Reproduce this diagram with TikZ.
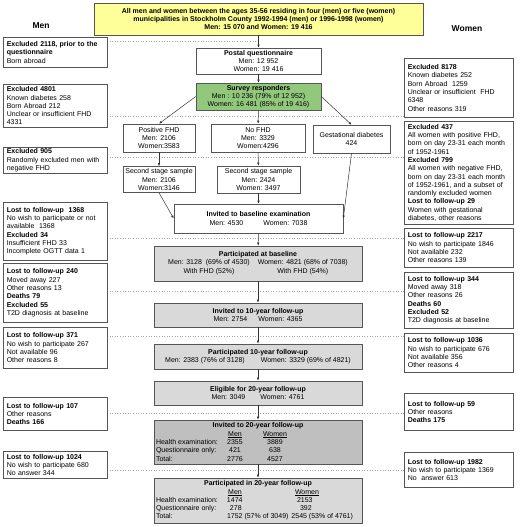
\documentclass[tikz,border=0pt]{standalone}
\usepackage{fontspec}
\setmainfont{Liberation Sans}
\usetikzlibrary{arrows.meta}
\definecolor{topyellow}{RGB}{255,255,153}
\definecolor{respgreen}{RGB}{146,200,124}
\definecolor{partgray}{RGB}{217,217,217}
\definecolor{invgray}{RGB}{191,191,191}
\definecolor{rimgray}{RGB}{85,85,85}
\def\boxfont{\fontsize{7}{8.3}\selectfont}
\def\headfont{\fontsize{8.5}{10}\selectfont\bfseries}
\def\tabrow#1#2#3{\makebox[204pt][l]{\makebox[64pt][l]{#1}\makebox[30pt]{#2}\makebox[50pt]{#3}}}
\tikzset{
	menbox/.style={draw=rimgray, line width=0.6pt, anchor=north west, align=left, text width=97pt, inner xsep=3.5pt, inner ysep=0pt, font=\boxfont},
	womenbox/.style={menbox, text width=102pt},
	stagebox/.style={draw=rimgray, line width=0.6pt, align=center, inner sep=0pt, font=\boxfont},
	guideline/.style={black!35, dotted, line width=0.6pt},
	flow/.style={black!80, line width=0.5pt, -{Latex[length=3pt,width=2.4pt]}},
}

\begin{document}
\begin{tikzpicture}[x=1pt, y=-1pt]
	%%%%% START %%%%%
	\useasboundingbox (0, 0) rectangle (520, 527);
	
	\node[font=\headfont] (menhead) at (41, 26) {Men};
	\node[font=\headfont] (womenhead) at (467, 29) {Women};
	
	% dotted guides
	\draw[guideline] (107, 41) -- (258.5, 41);
	\draw[guideline] (107, 116) -- (404, 116);
	\draw[guideline] (107, 157) -- (404, 157);
	\draw[guideline] (107, 238) -- (404, 238);
	\draw[guideline] (107, 291) -- (404, 291);
	\draw[guideline] (107, 336) -- (404, 336);
	\draw[guideline] (107, 413) -- (404, 413);
	\draw[guideline] (107, 470) -- (404, 470);
	
	% main column
	\node[stagebox, fill=topyellow, minimum width=329pt, minimum height=32pt, font=\boxfont\bfseries] (all) at (258.5, 19) {All men and women between the ages 35-56 residing in four (men) or five (women)\\municipalities in Stockholm County 1992-1994 (men) or 1996-1998 (women)\\Men: 15 070 and Women: 19 416};
	\node[stagebox, fill=white, minimum width=125pt, minimum height=26pt] (postal) at (258.5, 61) {\textbf{Postal questionnaire}\\Men: 12 952\\Women: 19 416};
	\node[stagebox, fill=respgreen, minimum width=125pt, minimum height=27pt] (resp) at (258.5, 96.5) {\textbf{Survey responders}\\Men : 10 236 (79\% of 12 952)\\Women: 16 481 (85\% of 19 416)};
	
	\node[stagebox, fill=white, minimum width=72pt, minimum height=28pt] (posfhd) at (159, 138) {Positive FHD\\Men: 2106\\Women:3583};
	\node[stagebox, fill=white, minimum width=94pt, minimum height=28pt] (nofhd) at (258, 138) {No FHD\\Men: 3329\\Women:4296};
	\node[stagebox, fill=white, minimum width=77pt, minimum height=28pt] (gest) at (351.5, 139) {Gestational diabetes\\424};
	
	\node[stagebox, fill=white, minimum width=72pt, minimum height=26pt] (second1) at (159, 179.5) {Second stage sample\\Men: 2106\\Women:3146};
	\node[stagebox, fill=white, minimum width=83pt, minimum height=27pt] (second2) at (258.5, 179.5) {Second stage sample\\Men: 2424\\Women: 3497};
	
	\node[stagebox, fill=white, minimum width=169pt, minimum height=29pt] (invbase) at (258.5, 218.5) {\textbf{Invited to baseline examination}\\Men: 4530\hspace{20pt}Women: 7038};
	\node[stagebox, fill=partgray, minimum width=208pt, minimum height=35pt] (partbase) at (258, 263.5) {\textbf{Participated at baseline}\\\begin{tabular}[t]{@{}c@{\hspace{8pt}}c@{}}Men: 3128\ \ (69\% of 4530) & Women: 4821 (68\% of 7038)\\With FHD (52\%) & With FHD (54\%)\end{tabular}};
	\node[stagebox, fill=partgray, minimum width=208pt, minimum height=24pt] (inv10) at (258, 315) {\textbf{Invited to 10-year follow-up}\\Men: 2754\hspace{11pt}Women: 4365};
	\node[stagebox, fill=partgray, minimum width=208pt, minimum height=25pt] (part10) at (258, 356.5) {\textbf{Participated 10-year follow-up}\\Men: 2383 (76\% of 3128)\hspace{16pt}Women: 3329 (69\% of 4821)};
	\node[stagebox, fill=partgray, minimum width=208pt, minimum height=24pt] (elig20) at (258, 393) {\textbf{Eligible for 20-year follow-up}\\Men: 3049\hspace{15pt}Women: 4761};
	\node[stagebox, fill=invgray, minimum width=208pt, minimum height=44pt] (inv20) at (258, 442) {\textbf{Invited to 20-year follow-up}\\\tabrow{}{\underline{Men}}{\underline{Women}}\\\tabrow{Health examination:}{2355}{3889}\\\tabrow{Questionnaire only:}{421}{638}\\\tabrow{Total:}{2776}{4527}};
	\node[stagebox, fill=partgray, minimum width=208pt, minimum height=45pt] (part20) at (258, 500.5) {\textbf{Participated in 20-year follow-up}\\\makebox[204pt][l]{\hspace{64pt}\makebox[30pt]{\underline{Men}}\hspace{35pt}\makebox[44pt]{\underline{Women}}}\\\makebox[204pt][l]{\makebox[71pt][l]{Health examination:}\makebox[70pt][l]{1474}2153}\\\makebox[204pt][l]{\makebox[74pt][l]{Questionnaire only:}\makebox[70pt][l]{278}392}\\\makebox[204pt][l]{\makebox[71pt][l]{Total:}1752 (57\% of 3049)\hspace{3pt}2545 (53\% of 4761)}};
	
	% men
	\node[menbox, minimum height=30pt] (ex2118) at (3, 37) {\textbf{Excluded 2118, prior to the}\\\textbf{questionnaire}\\Born abroad};
	\node[menbox, minimum height=43pt] (ex4801) at (3, 84) {\textbf{Excluded 4801}\\Known diabetes 258\\Born Abroad 212\\Unclear or insufficient FHD\\4331};
	\node[menbox, minimum height=26pt] (ex905) at (3, 147) {\textbf{Excluded 905}\\Randomly excluded men with\\negative FHD};
	\node[menbox, minimum height=58pt] (lost1368) at (3, 202) {\textbf{Lost to follow-up\ \ 1368}\\No wish to participate or not\\available\ \ 1368\\\textbf{Excluded 34}\\Insufficient FHD 33\\Incomplete OGTT data 1};
	\node[menbox, minimum height=59pt] (lost240) at (3, 263) {\textbf{Lost to follow-up 240}\\Moved away 227\\Other reasons 13\\\textbf{Deaths 79}\\\textbf{Excluded 55}\\T2D diagnosis at baseline};
	\node[menbox, minimum height=41pt] (lost371) at (3, 327) {\textbf{Lost to follow-up 371}\\No wish to participate 267\\Not available 96\\Other reasons 8};
	\node[menbox, minimum height=33pt] (lost107) at (3, 397) {\textbf{Lost to follow-up 107}\\Other reasons\\\textbf{Deaths 166}};
	\node[menbox, minimum height=27pt] (lost1024) at (3, 451) {\textbf{Lost to follow-up 1024}\\No wish to participate 680\\No answer 344};
	
	% women
	\node[womenbox, minimum height=59pt] (ex8178) at (404, 58) {\textbf{Excluded 8178}\\Known diabetes 252\\Born Abroad\ \ 1259\\Unclear or insufficient\ \ FHD\\6348\\Other reasons 319};
	\node[womenbox, minimum height=103pt] (ex437) at (404, 121) {\textbf{Excluded 437}\\All women with positive FHD,\\born on day 23-31 each month\\of 1952-1961\\\textbf{Excluded 799}\\All women with negative FHD,\\born on day 23-31 each month\\of 1952-1961, and a subset of\\randomly excluded women\\\textbf{Lost to follow-up 29}\\Women with gestational\\diabetes, other reasons};
	\node[womenbox, minimum height=39pt] (lost2217) at (404, 228) {\textbf{Lost to follow-up 2217}\\No wish to participate 1846\\Not available 232\\Other reasons 139};
	\node[womenbox, minimum height=56pt] (lost344) at (404, 272) {\textbf{Lost to follow-up 344}\\Moved away 318\\Other reasons 26\\\textbf{Deaths 60}\\\textbf{Excluded 52}\\T2D diagnosis at baseline};
	\node[womenbox, minimum height=39pt] (lost1036) at (404, 333) {\textbf{Lost to follow-up 1036}\\No wish to participate 676\\Not available 356\\Other reasons 4};
	\node[womenbox, minimum height=37pt] (lost59) at (404, 393) {\textbf{Lost to follow-up 59}\\Other reasons\\\textbf{Deaths 175}};
	\node[womenbox, minimum height=35pt] (lost1982) at (404, 452) {\textbf{Lost to follow-up 1982}\\No wish to participate 1369\\No\ \ answer 613};
	
	% arrows
	\draw[flow] (all) -- (postal);
	\draw[flow] (postal) -- (resp);
	\draw[flow] (resp.west) -- (posfhd.north);
	\draw[flow] (resp) -- (nofhd);
	\draw[flow] (resp.east) -- (gest.north);
	\draw[flow] (posfhd) -- (second1);
	\draw[flow] (nofhd) -- (second2);
	\draw[flow] (second1.south) -- (invbase.west);
	\draw[flow] (second2) -- (invbase);
	\draw[flow] (gest.south) -- (invbase.east);
	\draw[flow] (invbase) -- (partbase);
	\draw[flow] (partbase) -- (inv10);
	\draw[flow] (inv10) -- (part10);
	\draw[flow] (part10) -- (elig20);
	\draw[flow] (elig20) -- (inv20);
	\draw[flow] (inv20) -- (part20);
	
	%%%%% END %%%%%
\end{tikzpicture}
\end{document}
